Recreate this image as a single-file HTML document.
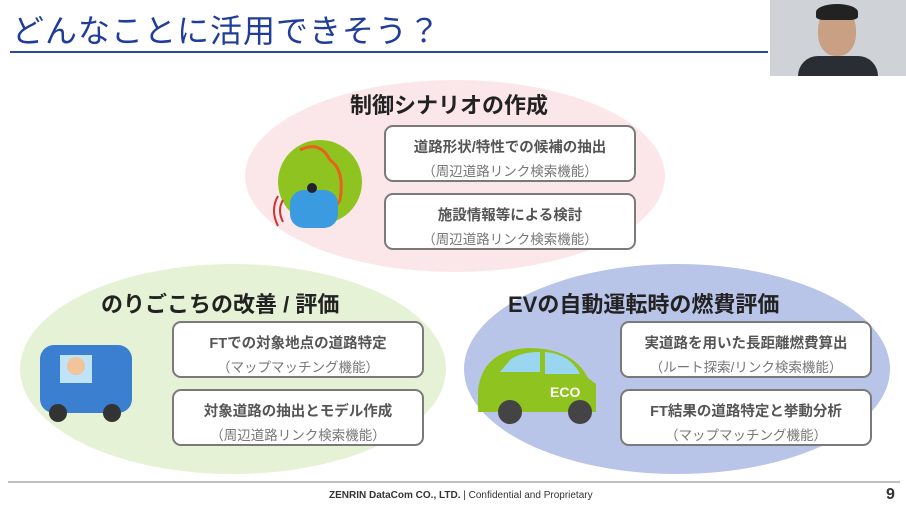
<!DOCTYPE html>
<html><head><meta charset="utf-8"><style>
body{margin:0;width:906px;height:506px;background:#fff;position:relative;overflow:hidden;font-family:"Liberation Sans","Noto Sans CJK JP",sans-serif}
.a{position:absolute}
.title{left:12px;top:6px;font-size:32px;color:#1f3d99;letter-spacing:1px;white-space:nowrap}
.ell{position:absolute;border-radius:50%}
.h{position:absolute;font-weight:bold;font-size:22px;color:#222;white-space:nowrap}
.box{position:absolute;width:252px;height:57px;border:2px solid #7a7a7a;border-radius:9px;background:#fff;text-align:center;box-sizing:border-box}
.box b{display:block;font-size:14.5px;color:#555;margin-top:9px}
.box span{display:block;font-size:13.5px;color:#777;margin-top:3px}
</style></head><body>
<div class="a title">どんなことに活用できそう？</div>
<div class="a" style="left:10px;top:51px;width:758px;height:2px;background:#2a4aa0"></div>
<div class="a" style="left:770px;top:0;width:136px;height:76px;background:#cfd3d8">
 <div class="a" style="left:48px;top:8px;width:38px;height:48px;border-radius:45%;background:#c9a084"></div>
 <div class="a" style="left:46px;top:4px;width:42px;height:16px;border-radius:50% 50% 20% 20%;background:#222"></div>
 <div class="a" style="left:28px;top:56px;width:80px;height:20px;border-radius:20px 20px 0 0;background:#2b2d35"></div>
</div>
<div class="ell" style="left:245px;top:80px;width:420px;height:192px;background:#fbe7ea"></div>
<div class="ell" style="left:20px;top:264px;width:426px;height:210px;background:#e6f2d6"></div>
<div class="ell" style="left:464px;top:264px;width:426px;height:210px;background:#b8c4e8"></div>
<div class="h" style="left:350px;top:88px">制御シナリオの作成</div>
<div class="h" style="left:101px;top:287px">のりごこちの改善 / 評価</div>
<div class="h" style="left:508px;top:287px">EVの自動運転時の燃費評価</div>
<div class="box" style="left:384px;top:125px"><b>道路形状/特性での候補の抽出</b><span>（周辺道路リンク検索機能）</span></div>
<div class="box" style="left:384px;top:193px"><b>施設情報等による検討</b><span>（周辺道路リンク検索機能）</span></div>
<div class="box" style="left:172px;top:321px"><b>FTでの対象地点の道路特定</b><span>（マップマッチング機能）</span></div>
<div class="box" style="left:172px;top:389px"><b>対象道路の抽出とモデル作成</b><span>（周辺道路リンク検索機能）</span></div>
<div class="box" style="left:620px;top:321px"><b>実道路を用いた長距離燃費算出</b><span>（ルート探索/リンク検索機能）</span></div>
<div class="box" style="left:620px;top:389px"><b>FT結果の道路特定と挙動分析</b><span>（マップマッチング機能）</span></div>
<svg class="a" style="left:0;top:0" width="906" height="506">
 <circle cx="320" cy="182" r="42" fill="#8fc31f"/>
 <path d="M300 150 q20 -10 30 10 q15 10 10 40 q-5 10 -15 12" stroke="#e8621d" stroke-width="3" fill="none"/>
 <rect x="290" y="190" width="48" height="38" rx="14" fill="#3b9be0"/>
 <circle cx="312" cy="188" r="5" fill="#223"/>
 <path d="M283 200 q-6 10 0 22 M278 196 q-8 14 0 30" stroke="#c33" stroke-width="2" fill="none"/>
 <rect x="40" y="345" width="92" height="68" rx="14" fill="#3a7fd0"/>
 <rect x="60" y="355" width="32" height="28" fill="#bfe3f7"/>
 <circle cx="76" cy="366" r="9" fill="#f2c49c"/>
 <circle cx="58" cy="413" r="9" fill="#333"/><circle cx="112" cy="413" r="9" fill="#333"/>
 <path d="M478 390 q5 -40 50 -42 q45 0 60 30 l8 6 v28 h-118z" fill="#8fc31f"/>
 <path d="M510 360 q10 -8 30 -8 l0 20 h-40z M545 352 q25 2 35 22 h-35z" fill="#9ad6f0"/>
 <text x="550" y="397" font-size="14" font-weight="bold" fill="#fff" font-family="Liberation Sans">ECO</text>
 <circle cx="510" cy="412" r="12" fill="#444"/><circle cx="580" cy="412" r="12" fill="#444"/>
 <line x1="8" y1="482" x2="900" y2="482" stroke="#aaa" stroke-width="1.5"/>
</svg>
<div class="a" style="left:329px;top:490px;font-size:10px;color:#333;white-space:nowrap"><b>ZENRIN DataCom CO., LTD.</b> | Confidential and Proprietary</div>
<div class="a" style="left:886px;top:486px;font-size:16px;font-weight:bold;color:#333">9</div>
</body></html>
